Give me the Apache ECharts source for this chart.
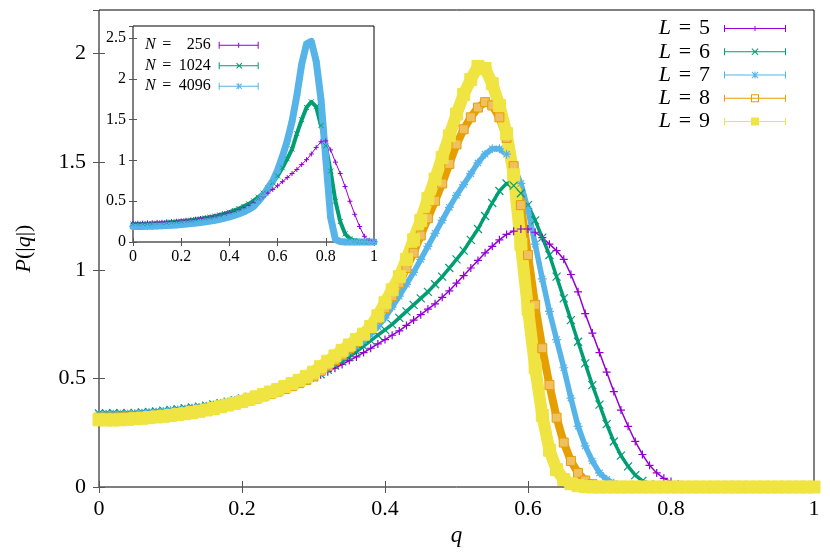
<!DOCTYPE html>
<html><head><meta charset="utf-8">
<script src="https://cdn.jsdelivr.net/npm/echarts@6/dist/echarts.min.js"></script>
<style>html,body{margin:0;padding:0;background:#fff}#c{width:830px;height:554px}</style>
</head><body><div id="c"></div>
<script>
// ---------- data ----------
const qMain = [0,0.01,0.02,0.03,0.04,0.05,0.06,0.07,0.08,0.09,0.1,0.11,0.12,0.13,0.14,0.15,0.16,0.17,0.18,0.19,0.2,0.21,0.22,0.23,0.24,0.25,0.26,0.27,0.28,0.29,0.3,0.31,0.32,0.33,0.34,0.35,0.36,0.37,0.38,0.39,0.4,0.41,0.42,0.43,0.44,0.45,0.46,0.47,0.48,0.49,0.5,0.51,0.52,0.53,0.54,0.55,0.56,0.57,0.58,0.59,0.6,0.61,0.62,0.63,0.64,0.65,0.66,0.67,0.68,0.69,0.7,0.71,0.72,0.73,0.74,0.75,0.76,0.77,0.78,0.79,0.8,0.81,0.82,0.83,0.84,0.85,0.86,0.87,0.88,0.89,0.9,0.91,0.92,0.93,0.94,0.95,0.96,0.97,0.98,0.99,1];
const L5 = [0.335,0.335,0.336,0.336,0.337,0.338,0.340,0.342,0.345,0.348,0.352,0.355,0.359,0.363,0.367,0.372,0.378,0.384,0.391,0.398,0.405,0.413,0.421,0.429,0.438,0.448,0.458,0.469,0.480,0.492,0.505,
  0.518,0.532,0.548,0.565,0.583,0.60,0.62,0.64,0.66,0.68,0.70,0.72,0.745,0.77,0.795,0.82,0.845,0.875,0.905,0.94,0.975,1.01,1.045,1.08,1.11,1.14,1.165,1.18,1.19,1.19,1.175,1.15,1.12,1.09,1.05,0.98,0.90,0.80,0.71,0.62,0.53,0.44,0.355,0.28,0.21,0.15,0.10,0.065,0.04,0.025,0.013,0.007,0.003,0.001,
  0,0,0,0,0,0,0,0,0,0,0,0,0,0,0,0];
const L6 = [0.339,0.339,0.340,0.340,0.341,0.342,0.344,0.346,0.349,0.352,0.356,0.359,0.363,0.367,0.371,0.375,0.381,0.387,0.394,0.401,0.408,0.416,0.424,0.432,0.441,0.451,0.461,0.472,0.483,0.495,0.507,
  0.52,0.54,0.56,0.58,0.60,0.625,0.65,0.675,0.70,0.725,0.75,0.78,0.81,0.84,0.87,0.90,0.935,0.97,1.01,1.05,1.09,1.14,1.19,1.25,1.31,1.365,1.40,1.39,1.355,1.30,1.23,1.15,1.07,0.97,0.87,0.77,0.67,0.57,0.47,0.38,0.29,0.21,0.145,0.095,0.055,0.028,0.013,0.006,0.002,
  0,0,0,0,0,0,0,0,0,0,0,0,0,0,0,0,0,0,0,0,0];
const L7 = [0.335,0.335,0.336,0.336,0.337,0.338,0.340,0.342,0.345,0.348,0.352,0.355,0.359,0.363,0.367,0.372,0.378,0.384,0.391,0.398,0.405,0.413,0.421,0.429,0.438,0.448,0.458,0.469,0.480,0.492,0.505,
  0.53,0.55,0.575,0.60,0.625,0.65,0.675,0.705,0.74,0.78,0.83,0.88,0.935,0.99,1.05,1.11,1.17,1.23,1.29,1.345,1.395,1.445,1.495,1.535,1.56,1.56,1.535,1.48,1.40,1.28,1.12,0.96,0.81,0.68,0.55,0.41,0.28,0.19,0.12,0.065,0.035,0.017,0.008,0.003,0.001,
  0,0,0,0,0,0,0,0,0,0,0,0,0,0,0,0,0,0,0,0,0,0,0,0,0];
const L8 = [0.32,0.32,0.32,0.321,0.321,0.322,0.324,0.326,0.329,0.332,0.335,0.338,0.342,0.346,0.350,0.355,0.361,0.368,0.375,0.382,0.39,0.399,0.408,0.418,0.429,0.44,0.452,0.465,0.479,0.494,0.51,
  0.535,0.56,0.585,0.61,0.64,0.67,0.70,0.735,0.775,0.825,0.88,0.94,1.01,1.08,1.16,1.24,1.32,1.40,1.49,1.58,1.65,1.705,1.75,1.775,1.76,1.705,1.61,1.48,1.30,1.07,0.84,0.64,0.47,0.32,0.205,0.12,0.065,0.03,0.013,0.005,0.002,
  0,0,0,0,0,0,0,0,0,0,0,0,0,0,0,0,0,0,0,0,0,0,0,0,0,0,0,0,0];
const L9 = [0.31,0.309,0.309,0.31,0.312,0.315,0.317,0.32,0.323,0.326,0.33,0.334,0.338,0.344,0.349,0.355,0.362,0.37,0.378,0.386,0.395,0.405,0.416,0.427,0.438,0.45,0.463,0.477,0.492,0.51,0.53,
  0.555,0.58,0.605,0.63,0.655,0.68,0.705,0.74,0.79,0.85,0.91,0.97,1.05,1.14,1.23,1.33,1.42,1.52,1.62,1.72,1.81,1.88,1.94,1.93,1.86,1.76,1.63,1.44,1.12,0.82,0.55,0.33,0.17,0.08,0.035,0.015,0.006,0.002,
  0,0,0,0,0,0,0,0,0,0,0,0,0,0,0,0,0,0,0,0,0,0,0,0,0,0,0,0,0,0,0,0];

const qInset = [0,0.02,0.04,0.06,0.08,0.1,0.12,0.14,0.16,0.18,0.2,0.22,0.24,0.26,0.28,0.3,0.32,0.34,0.36,0.38,0.4,0.42,0.44,0.46,0.48,0.5,0.52,0.54,0.56,0.58,0.6,0.62,0.64,0.66,0.68,0.7,0.72,0.74,0.76,0.78,0.8,0.82,0.84,0.86,0.88,0.9,0.92,0.94,0.96,0.98,1];
const N256 = [0.23,0.23,0.232,0.234,0.236,0.24,0.243,0.247,0.25,0.255,0.26,0.266,0.272,0.28,0.288,0.297,0.307,0.318,0.33,0.345,0.36,0.378,0.40,0.425,0.45,0.48,0.515,0.555,0.60,0.645,0.69,0.74,0.79,0.84,0.89,0.95,1.01,1.08,1.16,1.23,1.24,1.13,0.98,0.84,0.68,0.50,0.34,0.19,0.07,0.02,0.005];
const N1024 = [0.22,0.22,0.222,0.224,0.227,0.23,0.234,0.238,0.243,0.248,0.254,0.26,0.267,0.275,0.284,0.294,0.305,0.318,0.332,0.348,0.366,0.387,0.41,0.437,0.468,0.505,0.55,0.60,0.66,0.73,0.81,0.91,1.02,1.14,1.33,1.50,1.65,1.72,1.66,1.43,1.18,0.87,0.50,0.25,0.10,0.04,0.018,0.007,0.003,0.001,0];
const N4096 = [0.19,0.19,0.191,0.192,0.194,0.196,0.199,0.202,0.206,0.21,0.215,0.22,0.226,0.232,0.24,0.248,0.257,0.267,0.279,0.292,0.307,0.325,0.346,0.37,0.40,0.435,0.50,0.57,0.66,0.75,0.88,1.05,1.24,1.48,1.80,2.18,2.43,2.46,2.22,1.75,1.02,0.30,0.03,0.005,0,0,0,0,0,0,0];

const mainNames = ['L5','L6','L7','L8','L9'];
const insetNames = ['N256','N1024','N4096'];

// ---------- styling ----------
const FONT = 'Liberation Serif';
const C = {purple:'#9400d3', green:'#009e73', blue:'#56b4e9', orange:'#e69f00', yellow:'#f0e442'};
const PLUS = 'path://M0,5L10,5M5,0L5,10';
const CROSS = 'path://M0,0L10,10M0,10L10,0';
const STAR = 'path://M0,5L10,5M5,0L5,10M1.5,1.5L8.5,8.5M1.5,8.5L8.5,1.5';
const SQUARE = 'path://M0,0H10V10H0Z';

function iconMain(marker){
  const pad = 'M0,4H0.01V4.01H0Z ';
  const base = 'M9,3.5H71V4.5H9Z M9,0.5H10V7.5H9Z M70,0.5H71V7.5H70Z ';
  const m = {
    plus:'M39.5,1.5H40.5V6.5H39.5Z',
    cross:'M36.5,1.2L37.2,0.5L43.5,6.8L42.8,7.5Z M36.5,6.8L42.8,0.5L43.5,1.2L37.2,7.5Z',
    star:'M39.5,0.5H40.5V7.5H39.5Z M36.5,1.2L37.2,0.5L43.5,6.8L42.8,7.5Z M36.5,6.8L42.8,0.5L43.5,1.2L37.2,7.5Z',
    empty:'M36,0H44V8H36Z M37,1V7H43V1Z',
    rect:'M36,0H44V8H36Z'
  }[marker];
  return 'path://' + pad + base + m;
}
function iconInset(marker){
  const pad = 'M0,3H0.01V3.01H0Z ';
  const base = 'M3,3H43V4H3Z M3,0H4V7H3Z M42,0H43V7H42Z ';
  const m = {
    plus:'M22.5,1H23.5V6H22.5Z',
    cross:'M20.5,1.2L21.2,0.5L26.5,5.8L25.8,6.5Z M20.5,5.8L25.8,0.5L26.5,1.2L21.2,6.5Z',
    star:'M22.5,0.5H23.5V6.5H22.5Z M20.5,1.2L21.2,0.5L26.5,5.8L25.8,6.5Z M20.5,5.8L25.8,0.5L26.5,1.2L21.2,6.5Z'
  }[marker];
  return 'path://' + pad + base + m;
}

function pairs(q, v){ return q.map((x,i)=>[x, v[i]]); }

function lineSeries(name, q, vals, color, lw, symbol, size, axisIdx, fill, bw){
  return {
    type:'line', name, data: pairs(q, vals),
    xAxisIndex: axisIdx, yAxisIndex: axisIdx,
    symbol, symbolSize: size, showSymbol:true, showAllSymbol:true,
    clip:false, silent:true, animation:false,
    lineStyle:{color, width: lw, join:'round', cap:'round'},
    itemStyle:{color: fill || color, borderColor: color, borderWidth: bw || 1},
    emphasis:{disabled:true}
  };
}

const series = [
  lineSeries('L5', qMain, L5, C.purple, 1.5, PLUS, 8, 0, null, 1.2),
  lineSeries('L6', qMain, L6, C.green, 3.5, CROSS, 8, 0, null, 1.2),
  lineSeries('L7', qMain, L7, C.blue, 5.5, STAR, 9, 0, null, 1.2),
  lineSeries('L8', qMain, L8, C.orange, 8, SQUARE, 9, 0, '#f0c060', 1),
  lineSeries('L9', qMain, L9, C.yellow, 12, 'rect', 12, 0),
  lineSeries('N256', qInset, N256, C.purple, 1, PLUS, 5, 2),
  lineSeries('N1024', qInset, N1024, C.green, 4, CROSS, 5, 2),
  lineSeries('N4096', qInset, N4096, C.blue, 7, STAR, 7, 2)
];

const tickStyle = {color:'#555', width:1};
function xAx(grid, pos, showLabel, fs, len, margin, extra){
  return Object.assign({
    type:'value', gridIndex:grid, min:0, max:1, interval:0.2, position:pos,
    axisLine:{show:false}, splitLine:{show:false},
    axisTick:{show:true, inside:true, length:len, lineStyle:tickStyle},
    axisLabel:{show:showLabel, fontFamily:FONT, fontSize:fs, color:'#000', margin}
  }, extra||{});
}
function yAx(grid, pos, max, showLabel, fs, len, margin, extra){
  return Object.assign({
    type:'value', gridIndex:grid, min:0, max, interval:0.5, position:pos,
    axisLine:{show:false}, splitLine:{show:false},
    axisTick:{show:true, inside:true, length:len, lineStyle:tickStyle},
    axisLabel:{show:showLabel, showMaxLabel:false, fontFamily:FONT, fontSize:fs, color:'#000', margin}
  }, extra||{});
}

const option = {
  backgroundColor:'#fff',
  animation:false,
  grid:[
    {left:99, right:16, top:10, bottom:67, show:true, borderColor:'#000', borderWidth:1, backgroundColor:'transparent'},
    {left:133, right:456, top:26, bottom:312, show:true, borderColor:'#000', borderWidth:1, backgroundColor:'#fff'}
  ],
  xAxis:[
    xAx(0,'bottom',true,22,6,11,{name:'q', nameLocation:'middle', nameGap:33,
      nameTextStyle:{fontFamily:FONT, fontStyle:'italic', fontSize:23, color:'#000'}}),
    xAx(0,'top',false,22,6,8),
    xAx(1,'bottom',true,16,4,7),
    xAx(1,'top',false,16,4,7)
  ],
  yAxis:[
    yAx(0,'left',2.2,true,22,6,13,{name:'{i|P}(|{i|q}|)', nameLocation:'middle', nameGap:64, nameRotate:90,
      nameTextStyle:{fontFamily:FONT, fontSize:22, color:'#000',
        rich:{i:{fontFamily:FONT, fontStyle:'italic', fontSize:22, color:'#000'}}}}),
    yAx(0,'right',2.2,false,22,6,8),
    yAx(1,'left',2.65,true,16,4,7),
    yAx(1,'right',2.65,false,16,4,7)
  ],
  legend:[
    {
      orient:'vertical', right:44, top:17, padding:0, itemGap:0, align:'right',
      itemWidth:71, itemHeight:8, selectedMode:false,
      itemStyle:{borderWidth:0},
      data:[
        {name:'L5', icon:iconMain('plus'), itemStyle:{color:C.purple, borderWidth:0}},
        {name:'L6', icon:iconMain('cross'), itemStyle:{color:C.green, borderWidth:0}},
        {name:'L7', icon:iconMain('star'), itemStyle:{color:C.blue, borderWidth:0}},
        {name:'L8', icon:iconMain('empty'), itemStyle:{color:C.orange, borderWidth:0}},
        {name:'L9', icon:iconMain('rect'), itemStyle:{color:C.yellow, borderWidth:0}}
      ],
      formatter: n => '{i|L}{e|=}{d|' + n.slice(1) + '}',
      textStyle:{fontFamily:FONT, fontSize:22, lineHeight:23.2, color:'#000',
        rich:{
          i:{fontFamily:FONT, fontStyle:'italic', fontSize:22, lineHeight:23.2, color:'#000'},
          e:{fontFamily:FONT, fontSize:22, lineHeight:23.2, width:28, align:'center', color:'#000'},
          d:{fontFamily:FONT, fontSize:22, lineHeight:23.2, color:'#000'}
        }}
    },
    {
      orient:'vertical', left:145, top:35, padding:0, itemGap:0, align:'right',
      itemWidth:43, itemHeight:7, selectedMode:false,
      itemStyle:{borderWidth:0},
      data:[
        {name:'N256', icon:iconInset('plus'), itemStyle:{color:C.purple, borderWidth:0}},
        {name:'N1024', icon:iconInset('cross'), itemStyle:{color:C.green, borderWidth:0}},
        {name:'N4096', icon:iconInset('star'), itemStyle:{color:C.blue, borderWidth:0}}
      ],
      formatter: n => '{i|N}{e| = }{n|' + n.slice(1) + '}',
      textStyle:{fontFamily:FONT, fontSize:16, lineHeight:20.5, color:'#000',
        rich:{
          i:{fontFamily:FONT, fontStyle:'italic', fontSize:16, lineHeight:20.5, color:'#000'},
          e:{fontFamily:FONT, fontSize:16, lineHeight:20.5, width:22, align:'center', color:'#000'},
          n:{fontFamily:FONT, fontSize:16, lineHeight:20.5, width:33, align:'right', color:'#000'}
        }}
    }
  ],
  series
};

const chart = echarts.init(document.getElementById('c'), null, {renderer:'canvas'});
chart.setOption(option);
</script>
</body></html>
